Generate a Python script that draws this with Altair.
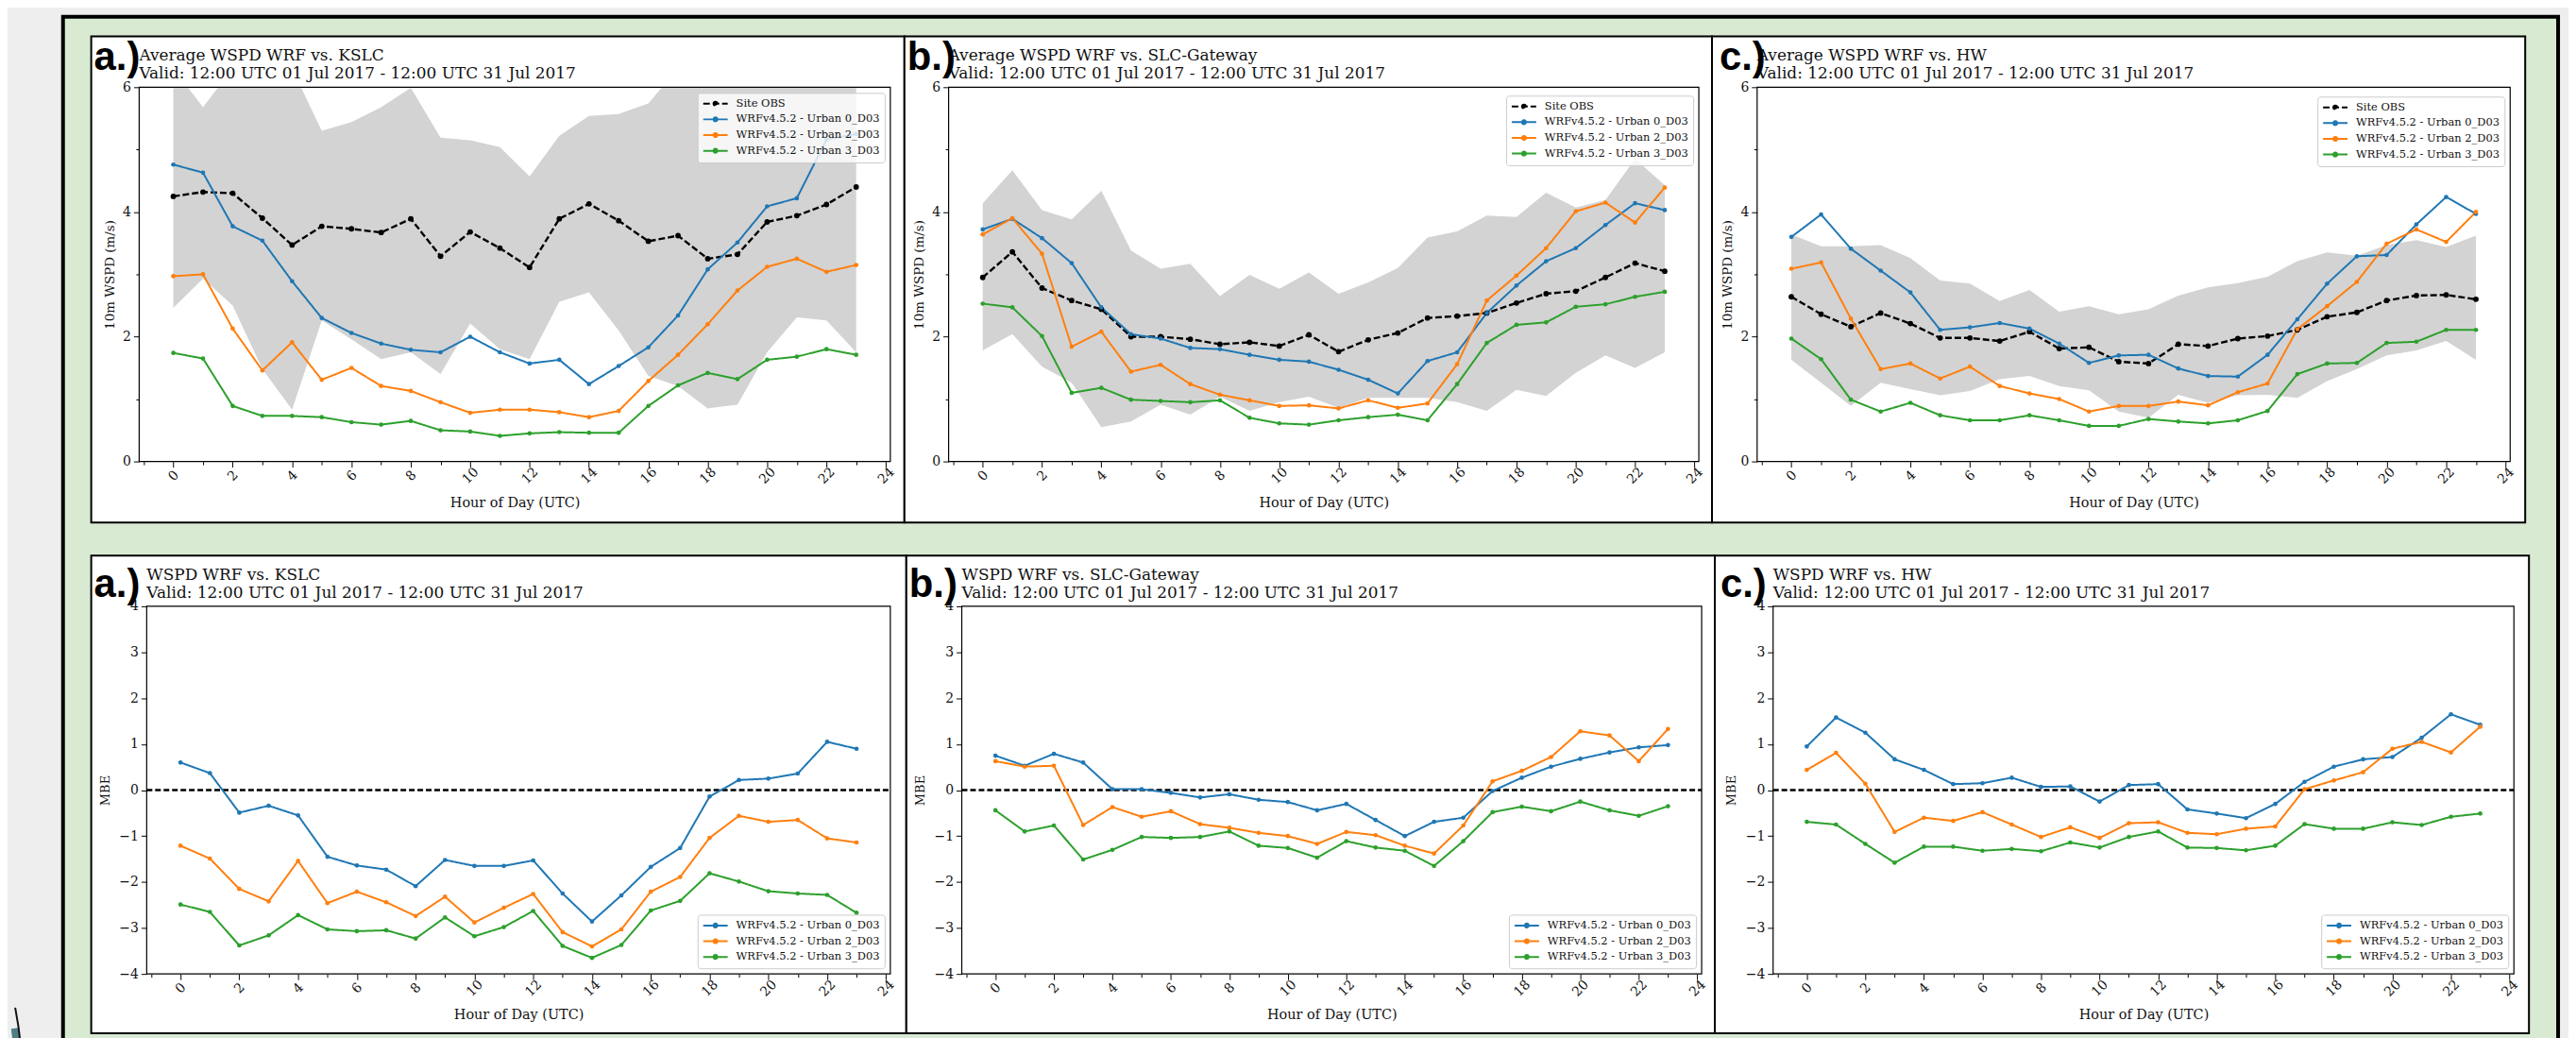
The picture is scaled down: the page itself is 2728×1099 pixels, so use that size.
import altair as alt
import pandas as pd

# ---------------- data ----------------
HOURS = list(range(24))
S_OBS = "Site OBS"
S_U0 = "WRFv4.5.2 - Urban 0_D03"
S_U2 = "WRFv4.5.2 - Urban 2_D03"
S_U3 = "WRFv4.5.2 - Urban 3_D03"
SERIES_TOP = [S_OBS, S_U0, S_U2, S_U3]
SERIES_BOT = [S_U0, S_U2, S_U3]
COLORS_TOP = ["#000000", "#1f77b4", "#ff7f0e", "#2ca02c"]
COLORS_BOT = ["#1f77b4", "#ff7f0e", "#2ca02c"]
DASH_TOP = [[7, 3], [1, 0], [1, 0], [1, 0]]
DASH_BOT = [[1, 0], [1, 0], [1, 0]]

SITES = ["KSLC", "SLC-Gateway", "HW"]
LETTERS = ["a.)", "b.)", "c.)"]
VALID = "Valid: 12:00 UTC 01 Jul 2017 - 12:00 UTC 31 Jul 2017"
X_TICKS = list(range(-1, 25))
Y_TICKS_TOP = [0, 1, 2, 3, 4, 5, 6]
Y_TICKS_BOT = [-4, -3.5, -3, -2.5, -2, -1.5, -1, -0.5, 0, 0.5, 1, 1.5, 2, 2.5, 3, 3.5, 4]

# Average WSPD (m/s)
obs_kslc = [4.25, 4.32, 4.30, 3.90, 3.47, 3.77, 3.73, 3.67, 3.89, 3.29, 3.68, 3.42, 3.11, 3.89, 4.13, 3.86, 3.53, 3.62, 3.25, 3.32, 3.84, 3.94, 4.12, 4.40]
u0_kslc = [4.76, 4.63, 3.77, 3.54, 2.89, 2.30, 2.06, 1.89, 1.79, 1.75, 2.00, 1.75, 1.57, 1.63, 1.24, 1.53, 1.83, 2.34, 3.08, 3.51, 4.09, 4.22, 5.16, 5.25]
u2_kslc = [2.97, 3.00, 2.13, 1.46, 1.91, 1.31, 1.50, 1.21, 1.13, 0.95, 0.78, 0.83, 0.83, 0.79, 0.71, 0.81, 1.29, 1.71, 2.20, 2.74, 3.12, 3.25, 3.04, 3.15]
u3_kslc = [1.74, 1.65, 0.89, 0.73, 0.73, 0.71, 0.63, 0.59, 0.65, 0.50, 0.48, 0.41, 0.45, 0.47, 0.46, 0.46, 0.89, 1.22, 1.42, 1.32, 1.63, 1.68, 1.80, 1.71]
lo_kslc = [2.46, 2.93, 2.50, 1.48, 0.83, 2.26, 1.96, 1.64, 1.75, 1.40, 2.21, 1.80, 1.64, 2.56, 2.71, 2.10, 1.37, 1.21, 0.85, 0.91, 1.75, 2.31, 2.26, 1.75]
hi_kslc = [6.30, 5.68, 6.30, 6.30, 6.30, 5.30, 5.44, 5.68, 5.99, 5.19, 5.15, 5.04, 4.57, 5.22, 5.54, 5.57, 5.74, 6.30, 6.30, 6.30, 6.30, 6.30, 6.30, 6.30]

obs_gw = [2.95, 3.36, 2.78, 2.58, 2.44, 2.00, 2.00, 1.96, 1.88, 1.91, 1.85, 2.03, 1.76, 1.95, 2.06, 2.30, 2.33, 2.38, 2.54, 2.69, 2.73, 2.95, 3.18, 3.05]
u0_gw = [3.72, 3.89, 3.58, 3.18, 2.47, 2.04, 1.97, 1.82, 1.80, 1.71, 1.63, 1.60, 1.47, 1.31, 1.09, 1.61, 1.75, 2.38, 2.82, 3.21, 3.42, 3.79, 4.14, 4.03]
u2_gw = [3.64, 3.90, 3.33, 1.84, 2.08, 1.44, 1.55, 1.24, 1.07, 0.98, 0.89, 0.90, 0.85, 0.98, 0.86, 0.93, 1.56, 2.58, 2.98, 3.42, 4.01, 4.15, 3.83, 4.39]
u3_gw = [2.53, 2.47, 2.01, 1.10, 1.18, 0.99, 0.97, 0.95, 0.98, 0.70, 0.61, 0.59, 0.66, 0.71, 0.75, 0.66, 1.24, 1.90, 2.19, 2.23, 2.48, 2.52, 2.64, 2.72]
lo_gw = [1.78, 2.04, 1.52, 1.26, 0.55, 0.64, 0.91, 0.75, 1.04, 0.81, 0.95, 1.04, 0.86, 1.02, 1.02, 1.02, 0.95, 0.81, 1.15, 1.05, 1.42, 1.70, 1.50, 1.75]
hi_gw = [4.14, 4.67, 4.03, 3.88, 4.34, 3.38, 3.09, 3.17, 2.65, 2.99, 2.77, 3.03, 2.69, 2.87, 3.10, 3.59, 3.69, 3.94, 3.92, 4.31, 4.07, 4.19, 4.85, 4.43]

obs_hw = [2.64, 2.36, 2.16, 2.38, 2.21, 1.98, 1.98, 1.93, 2.08, 1.81, 1.83, 1.60, 1.57, 1.88, 1.85, 1.97, 2.01, 2.11, 2.32, 2.39, 2.58, 2.66, 2.67, 2.60]
u0_hw = [3.60, 3.96, 3.41, 3.06, 2.71, 2.11, 2.15, 2.22, 2.13, 1.89, 1.58, 1.70, 1.71, 1.49, 1.37, 1.36, 1.71, 2.28, 2.85, 3.29, 3.31, 3.80, 4.24, 3.97]
u2_hw = [3.09, 3.19, 2.29, 1.48, 1.57, 1.33, 1.52, 1.21, 1.09, 1.00, 0.80, 0.89, 0.89, 0.96, 0.90, 1.11, 1.25, 2.12, 2.49, 2.88, 3.49, 3.72, 3.52, 4.00]
u3_hw = [1.97, 1.64, 0.99, 0.80, 0.94, 0.74, 0.66, 0.66, 0.74, 0.66, 0.57, 0.57, 0.68, 0.64, 0.61, 0.66, 0.81, 1.40, 1.57, 1.58, 1.90, 1.92, 2.11, 2.11]
lo_hw = [1.63, 1.26, 0.89, 1.26, 1.16, 1.06, 1.13, 1.32, 1.37, 1.21, 1.14, 0.80, 0.70, 1.07, 0.94, 1.06, 1.07, 1.02, 1.29, 1.48, 1.70, 1.78, 1.93, 1.63]
hi_hw = [3.64, 3.45, 3.45, 3.47, 3.26, 2.90, 2.85, 2.57, 2.75, 2.40, 2.49, 2.36, 2.44, 2.66, 2.79, 2.86, 2.96, 3.21, 3.35, 3.30, 3.47, 3.55, 3.44, 3.62]

# MBE
mbe_u0_kslc = [0.60, 0.37, -0.49, -0.34, -0.55, -1.45, -1.64, -1.73, -2.09, -1.52, -1.65, -1.65, -1.53, -2.25, -2.86, -2.29, -1.67, -1.26, -0.14, 0.22, 0.25, 0.36, 1.05, 0.90]
mbe_u2_kslc = [-1.21, -1.49, -2.15, -2.42, -1.54, -2.46, -2.21, -2.44, -2.74, -2.32, -2.88, -2.56, -2.26, -3.09, -3.40, -3.03, -2.21, -1.89, -1.04, -0.56, -0.69, -0.65, -1.05, -1.14]
mbe_u3_kslc = [-2.49, -2.65, -3.38, -3.16, -2.72, -3.03, -3.07, -3.05, -3.23, -2.77, -3.18, -2.98, -2.63, -3.39, -3.65, -3.37, -2.62, -2.41, -1.81, -1.99, -2.20, -2.25, -2.28, -2.67]

mbe_u0_gw = [0.75, 0.53, 0.79, 0.60, 0.02, 0.02, -0.06, -0.16, -0.09, -0.21, -0.26, -0.44, -0.30, -0.65, -1.00, -0.69, -0.60, -0.02, 0.27, 0.51, 0.68, 0.82, 0.93, 0.98]
mbe_u2_gw = [0.63, 0.51, 0.53, -0.76, -0.37, -0.58, -0.46, -0.74, -0.82, -0.93, -1.00, -1.17, -0.91, -0.98, -1.21, -1.38, -0.77, 0.19, 0.42, 0.72, 1.28, 1.19, 0.63, 1.33]
mbe_u3_gw = [-0.44, -0.90, -0.77, -1.51, -1.30, -1.02, -1.04, -1.02, -0.90, -1.21, -1.26, -1.47, -1.11, -1.25, -1.32, -1.65, -1.11, -0.48, -0.36, -0.46, -0.25, -0.44, -0.56, -0.35]

mbe_u0_hw = [0.95, 1.58, 1.25, 0.67, 0.44, 0.13, 0.15, 0.27, 0.07, 0.08, -0.25, 0.11, 0.13, -0.42, -0.51, -0.61, -0.30, 0.18, 0.51, 0.67, 0.72, 1.14, 1.65, 1.42]
mbe_u2_hw = [0.44, 0.81, 0.14, -0.91, -0.60, -0.67, -0.48, -0.75, -1.02, -0.81, -1.04, -0.72, -0.70, -0.93, -0.96, -0.84, -0.79, 0.02, 0.21, 0.39, 0.90, 1.05, 0.82, 1.38]
mbe_u3_hw = [-0.69, -0.75, -1.17, -1.58, -1.23, -1.23, -1.32, -1.28, -1.33, -1.14, -1.25, -1.02, -0.90, -1.25, -1.26, -1.31, -1.21, -0.74, -0.84, -0.84, -0.70, -0.76, -0.58, -0.51]

# ---------------- styling ----------------
SERIF = "DejaVu Serif"
SANS = "Liberation Sans"
TXT = "#111111"
BG_GRAY = "#eeeeee"
GREEN = "#d9ead3"
TEAL = "#4f7e86"
BAND = "#d3d3d3"
ONE = pd.DataFrame({"k": [0]})
SYM_PATH = "M-1,0L1,0M-0.16,0A0.16,0.16,0,1,1,0.16,0A0.16,0.16,0,1,1,-0.16,0Z"


def long_df(names, arrays):
    rows = []
    for n, arr in zip(names, arrays):
        for h, v in zip(HOURS, arr):
            rows.append({"hour": h, "value": v, "series": n})
    return pd.DataFrame(rows)


def band_df(lo, hi):
    return pd.DataFrame({"hour": HOURS, "lo": lo, "hi": hi})


AX_COMMON = dict(domain=False, grid=False, tickColor="#000000", tickWidth=1,
                 labelFont=SERIF, labelFontSize=14, labelColor=TXT, labelFlush=False,
                 labelOverlap=False, titleFont=SERIF, titleFontWeight="normal",
                 titleColor=TXT, zindex=1)


def axis_x():
    return alt.Axis(values=X_TICKS, format="d",
                    labelExpr="(datum.value >= 0 && datum.value % 2 == 0) ? datum.label : ''",
                    labelAngle=315, labelAlign="center", labelBaseline="middle", labelPadding=9,
                    tickSize={"condition": {"test": "datum.value % 2 == 0", "value": 6}, "value": 3.5},
                    title="Hour of Day (UTC)", titleFontSize=14.5, titleY=44, titleBaseline="middle",
                    **AX_COMMON)


def axis_y(top, inset):
    if top:
        return alt.Axis(values=Y_TICKS_TOP, format="d", offset=-inset,
                        labelExpr="datum.value % 2 == 0 ? datum.label : ''", labelPadding=3,
                        tickSize={"condition": {"test": "datum.value % 2 == 0", "value": 6}, "value": 3.5},
                        title="10m WSPD (m/s)", titleFontSize=13.5, titleX=-31, titleAngle=270,
                        titleBaseline="middle", **AX_COMMON)
    return alt.Axis(values=Y_TICKS_BOT, format="d", offset=-inset,
                    labelExpr="datum.value % 1 == 0 ? datum.label : ''", labelPadding=3,
                    tickSize={"condition": {"test": "datum.value % 1 == 0", "value": 6}, "value": 3.5},
                    title="MBE", titleFontSize=13, titleX=-44, titleAngle=270,
                    titleBaseline="middle", **AX_COMMON)


def legend(orient, offset):
    return alt.Legend(title=None, orient=orient, offset=offset, labelFont=SERIF, labelFontSize=11.5,
                      labelColor=TXT, labelLimit=400, labelOffset=8, symbolType=SYM_PATH,
                      symbolSize=676, symbolStrokeWidth=2, clipHeight=13, rowPadding=3.7,
                      padding=5, cornerRadius=3, strokeColor="#cccccc",
                      fillColor="rgba(255,255,255,0.8)")


def deco_layers():
    b = alt.Chart(ONE)
    bg = b.mark_rect(fill=BG_GRAY).encode(
        x=alt.value(-137), x2=alt.value(2583), y=alt.value(-81), y2=alt.value(1020))
    teal = b.mark_arc(radius=433, radius2=425, theta=1.43, theta2=1.75, fill=TEAL).encode(
        x=alt.value(-557), y=alt.value(1061))
    edge = b.mark_arc(radius=434, radius2=432, theta=1.38, theta2=1.75, fill="#111111").encode(
        x=alt.value(-557), y=alt.value(1061))
    green = b.mark_rect(fill=GREEN, stroke="black", strokeWidth=4).encode(
        x=alt.value(-81), x2=alt.value(2573), y=alt.value(-75), y2=alt.value(1040))
    return [bg, teal, edge, green]


def panel(top, idx, lines, band, cell_w, x0, x1, height, box, letter_dx, letter_dy, deco=False):
    """cell_w: width of the grid cell; [x0, x1]: plot area inside the cell."""
    dom = SERIES_TOP if top else SERIES_BOT
    rng = COLORS_TOP if top else COLORS_BOT
    dash = DASH_TOP if top else DASH_BOT
    xscale = alt.Scale(domain=[-1.15, 24.15], range=[x0, x1], nice=False, zero=False)
    yscale = alt.Scale(domain=[0, 6] if top else [-4, 4], nice=False, zero=False)
    xenc = alt.X("hour:Q", scale=xscale, axis=axis_x())
    yenc = alt.Y("value:Q", scale=yscale, axis=axis_y(top, x0))
    leg = legend("top-right" if top else "bottom-right", 6 + (cell_w - x1))
    color = alt.Color("series:N", scale=alt.Scale(domain=dom, range=rng), legend=leg)
    sdash = alt.StrokeDash("series:N", scale=alt.Scale(domain=dom, range=dash), legend=leg)

    title1 = ("Average WSPD WRF vs. " if top else "WSPD WRF vs. ") + SITES[idx]
    b1 = alt.Chart(ONE)
    layers = deco_layers() if deco else []
    layers.append(b1.mark_rect(fill="white", stroke="black", strokeWidth=2).encode(
        x=alt.value(box[0]), x2=alt.value(box[1]), y=alt.value(box[2]), y2=alt.value(box[3])))
    layers.append(b1.mark_text(align="left", baseline="alphabetic", font=SERIF, fontSize=17,
                               color=TXT).encode(x=alt.value(x0), y=alt.value(-28.5),
                                                 text=alt.value(title1)))
    layers.append(b1.mark_text(align="left", baseline="alphabetic", font=SERIF, fontSize=17,
                               color=TXT).encode(x=alt.value(x0), y=alt.value(-9.3),
                                                 text=alt.value(VALID)))
    layers.append(b1.mark_text(align="left", baseline="alphabetic", font=SANS, fontSize=42,
                               fontWeight="bold", color="#000000").encode(
        x=alt.value(letter_dx), y=alt.value(letter_dy), text=alt.value(LETTERS[idx])))
    if band is not None:
        layers.append(alt.Chart(band).mark_area(color=BAND, clip=True).encode(
            x=xenc, y=alt.Y("lo:Q", scale=yscale, axis=axis_y(top, x0)), y2="hi:Q"))
    if not top:
        layers.append(b1.mark_rule(color="black", strokeWidth=2.5, strokeDash=[6, 3]).encode(
            x=alt.value(x0), x2=alt.value(x1), y=alt.datum(0)))
    layers.append(alt.Chart(lines).mark_line(clip=True).encode(
        x=xenc, y=yenc, color=color, strokeDash=sdash,
        strokeWidth=alt.condition("datum.series == 'Site OBS'", alt.value(2.4), alt.value(2))))
    layers.append(alt.Chart(lines).mark_point(filled=True, opacity=1, clip=True).encode(
        x=xenc, y=yenc, color=color,
        size=alt.condition("datum.series == 'Site OBS'", alt.value(34), alt.value(22))))
    layers.append(b1.mark_rect(filled=False, stroke="black", strokeWidth=1.2).encode(
        x=alt.value(x0), x2=alt.value(x1), y=alt.value(0), y2=alt.value(height)))
    return alt.layer(*layers).properties(width=cell_w, height=height)


def spacer(w, h):
    return alt.Chart(ONE).mark_point(opacity=0).encode(
        x=alt.value(0), y=alt.value(0)).properties(width=w, height=h)


# ---------------- panels ----------------
top_lines = [
    long_df(SERIES_TOP, [obs_kslc, u0_kslc, u2_kslc, u3_kslc]),
    long_df(SERIES_TOP, [obs_gw, u0_gw, u2_gw, u3_gw]),
    long_df(SERIES_TOP, [obs_hw, u0_hw, u2_hw, u3_hw]),
]
top_bands = [band_df(lo_kslc, hi_kslc), band_df(lo_gw, hi_gw), band_df(lo_hw, hi_hw)]
bot_lines = [
    long_df(SERIES_BOT, [mbe_u0_kslc, mbe_u2_kslc, mbe_u3_kslc]),
    long_df(SERIES_BOT, [mbe_u0_gw, mbe_u2_gw, mbe_u3_gw]),
    long_df(SERIES_BOT, [mbe_u0_hw, mbe_u2_hw, mbe_u3_hw]),
]

# grid columns (cell widths) and gaps between them
CELL_W = [799, 801, 805]
GAPS = [62, 59]
TOP_H = 398
BOT_H = 391
# plot area [x0, x1] inside each cell
TOP_X = [(0, 799), (0, 798), (0, 801)]
BOT_X = [(8, 799), (14, 801), (17, 805)]
TOP_BOX = [(-51, 814, -54, 463), (-47, 812, -54, 463), (-48, 817, -54, 463)]
BOT_BOX = [(-51, 816, -54, 454), (-45, 815, -54, 454), (-45, 821, -54, 454)]
TOP_LX = [-48, -44, -40]
BOT_LX = [-48, -42, -39]

tops = [panel(True, i, top_lines[i], top_bands[i], CELL_W[i], TOP_X[i][0], TOP_X[i][1], TOP_H,
              TOP_BOX[i], TOP_LX[i], -18, deco=(i == 0)) for i in range(3)]
bots = [panel(False, i, bot_lines[i], None, CELL_W[i], BOT_X[i][0], BOT_X[i][1], BOT_H,
              BOT_BOX[i], BOT_LX[i], -10) for i in range(3)]

cells = [
    tops[0], spacer(GAPS[0], TOP_H), tops[1], spacer(GAPS[1], TOP_H), tops[2],
    bots[0], spacer(GAPS[0], BOT_H), bots[1], spacer(GAPS[1], BOT_H), bots[2],
]

RES = dict(color="independent", strokeDash="independent")
chart = (
    alt.concat(*cells, columns=5, spacing={"row": 154, "column": 0}, bounds="flush", align="each")
    .resolve_scale(**RES)
    .resolve_legend(**RES)
    .properties(padding=0, background=BG_GRAY)
    .configure_view(stroke="transparent")
)

chart.save("out.html", embed_options={"renderer": "svg", "actions": False})
